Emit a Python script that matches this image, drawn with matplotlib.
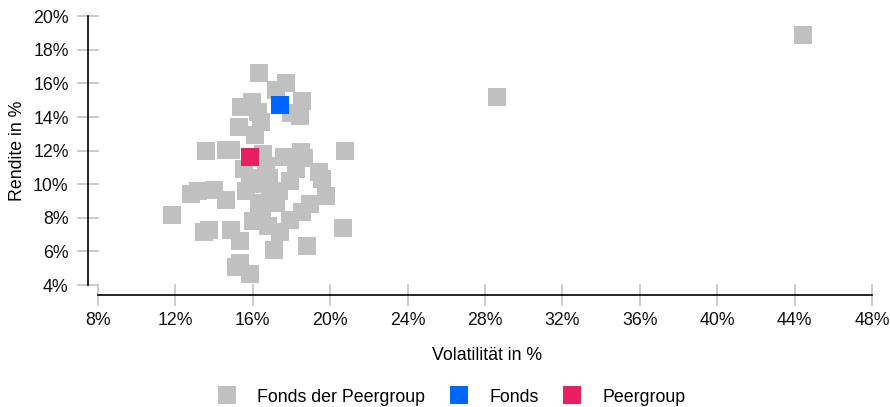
import matplotlib as mpl
mpl.use("Agg")
import matplotlib.pyplot as plt
from matplotlib.lines import Line2D

mpl.rcParams["font.family"] = ["Liberation Sans", "DejaVu Sans"]

# Volatilitaet / Rendite in %
peer_vol = [16.31, 17.70, 17.21, 18.53, 17.98, 18.42, 15.38, 15.95, 16.29, 16.41,
            15.28, 16.10, 13.58, 14.61, 14.87, 16.52, 15.54, 16.67, 17.60, 18.47,
            18.63, 20.79, 18.22, 19.40, 19.56, 17.91, 15.85, 16.82, 15.64, 17.34,
            13.16, 12.80, 13.99, 14.61, 19.76, 18.94, 16.31, 17.19, 18.53, 11.82,
            16.00, 16.77, 17.91, 17.39, 13.47, 13.73, 14.87, 15.33, 20.64, 17.08,
            18.78, 15.33, 15.12, 15.85, 28.63, 44.44, 16.30, 16.90, 16.50]
peer_ret = [16.61, 16.01, 15.60, 14.94, 14.23, 14.05, 14.59, 14.88, 14.32, 13.69,
            13.40, 12.94, 11.97, 12.03, 12.03, 11.79, 10.90, 11.08, 11.61, 11.91,
            11.55, 11.97, 10.90, 10.72, 10.30, 10.18, 10.36, 10.36, 9.59, 9.59,
            9.59, 9.41, 9.65, 9.05, 9.29, 8.82, 8.88, 8.88, 8.34, 8.16,
            7.80, 7.51, 7.86, 7.15, 7.15, 7.27, 7.27, 6.61, 7.39, 6.08,
            6.32, 5.31, 5.07, 4.65, 15.18, 18.87, 10.00, 9.40, 8.60]
fonds_vol, fonds_ret = [17.39], [14.71]
pg_vol, pg_ret = [15.85], [11.61]

xticks = list(range(8, 49, 4))
yticks = list(range(4, 21, 2))

c_peer, c_fonds, c_pg = "#c0c0c0", "#0066ff", "#e8205f"
fs = 12.8

fig = plt.figure(figsize=(8.9, 4.07), dpi=100)
ax = fig.add_axes([98 / 890, 1 - 285 / 407, (872 - 98) / 890, (285 - 16.3) / 407])

ms = 12.3
ax.plot(peer_vol, peer_ret, "s", ms=ms, mew=0, color=c_peer, zorder=2, clip_on=False)
ax.plot(fonds_vol, fonds_ret, "s", ms=ms, mew=0, color=c_fonds, zorder=3)
ax.plot(pg_vol, pg_ret, "s", ms=ms, mew=0, color=c_pg, zorder=3)

ax.set_xlim(8, 48)
ax.set_ylim(4, 20)
ax.set_xticks(xticks)
ax.set_yticks(yticks)
ax.set_xticklabels([f"{t}%" for t in xticks])
ax.set_yticklabels([f"{t}%" for t in yticks])

for s in ["top", "right"]:
    ax.spines[s].set_visible(False)
for s in ["left", "bottom"]:
    ax.spines[s].set_position(("outward", 7.2))
    ax.spines[s].set_linewidth(1.2)
    ax.spines[s].set_color("black")

ax.tick_params(axis="both", direction="inout", length=15.8, width=1.4,
               color="#cccccc", labelsize=fs, labelcolor="#111111")
ax.tick_params(axis="y", pad=6.0)
ax.tick_params(axis="x", pad=4.5)

ax.set_ylabel("Rendite in %", fontsize=fs, labelpad=5)
fig.text(487 / 890, 1 - 356 / 407, "Volatilität in %", ha="center", va="center", fontsize=fs)

handles = [Line2D([], [], ls="", marker="s", ms=ms, mew=0, color=c) for c in (c_peer, c_fonds, c_pg)]
fig.legend(handles, ["Fonds der Peergroup", "Fonds", "Peergroup"], loc="center",
           bbox_to_anchor=(452 / 890, 1 - 397 / 407), ncol=3, frameon=False,
           fontsize=fs, handlelength=1.0, handletextpad=1.19, columnspacing=1.4)

fig.savefig("out.png", dpi=100)
